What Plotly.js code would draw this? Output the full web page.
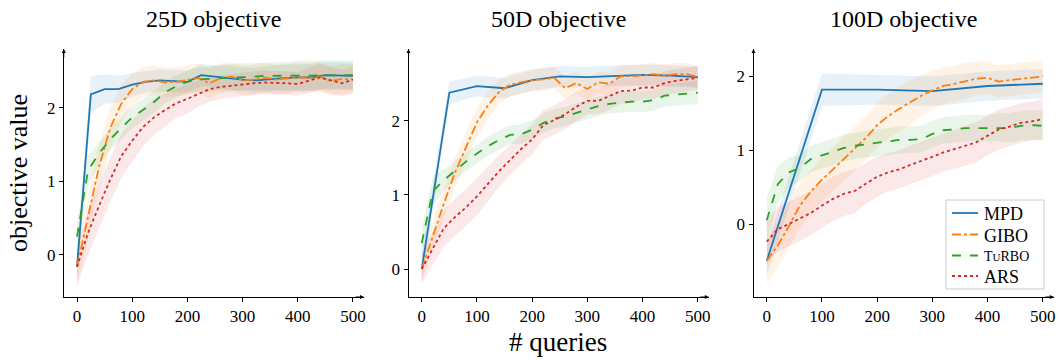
<!DOCTYPE html>
<html>
<head>
<meta charset="utf-8">
<script src="https://cdn.plot.ly/plotly-3.0.1.min.js"></script>
<style>html,body{margin:0;padding:0;background:#fff;}</style>
</head>
<body>
<div id="chart" style="width:1059px;height:360px;"></div>
<script>
// ---------- data ----------
const xMPD25 = [0,25,50,75,100,125,150,175,200,225,250,275,300,325,350,375,400,425,450,475,500];
const xMPD50 = [0,50,100,150,200,250,300,350,400,450,500];
const xMPD100 = [0,100,200,300,400,500];
const xQ = [0,20,40,60,80,100,120,140,160,180,200,220,240,260,280,300,320,340,360,380,400,420,440,460,480,500];

// 25D
const mpd25 = [-0.16,2.18,2.25,2.25,2.31,2.35,2.37,2.36,2.35,2.44,2.42,2.41,2.38,2.37,2.39,2.40,2.41,2.41,2.44,2.43,2.43];
const mpd25Sd = [0.25,0.25,0.2,0.18,0.16,0.15,0.15,0.15,0.15,0.15,0.15,0.16,0.16,0.17,0.18,0.18,0.18,0.18,0.18,0.18,0.18];
const gibo25 = [-0.16,0.50,1.20,1.72,2.05,2.25,2.35,2.37,2.34,2.35,2.37,2.40,2.33,2.40,2.42,2.37,2.38,2.41,2.38,2.40,2.41,2.40,2.42,2.36,2.39,2.38];
const gibo25Sd = [0.25,0.3,0.3,0.28,0.25,0.22,0.2,0.2,0.2,0.2,0.2,0.2,0.2,0.2,0.2,0.2,0.2,0.2,0.2,0.2,0.2,0.2,0.2,0.2,0.2,0.2];
const turbo25 = [0.25,1.15,1.38,1.57,1.72,1.87,1.97,2.08,2.21,2.29,2.35,2.38,2.39,2.40,2.41,2.42,2.42,2.43,2.43,2.43,2.44,2.44,2.44,2.44,2.44,2.44];
const turbo25Sd = [0.2,0.2,0.15,0.15,0.15,0.15,0.15,0.15,0.15,0.15,0.15,0.16,0.17,0.18,0.18,0.18,0.18,0.18,0.19,0.19,0.2,0.2,0.2,0.2,0.2,0.2];
const ars25 = [-0.16,0.30,0.67,1.02,1.34,1.55,1.74,1.87,1.97,2.06,2.12,2.19,2.25,2.28,2.30,2.31,2.33,2.34,2.34,2.33,2.32,2.37,2.41,2.37,2.33,2.38];
const ars25Sd = [0.25,0.3,0.3,0.3,0.3,0.28,0.26,0.24,0.22,0.2,0.2,0.18,0.17,0.16,0.16,0.16,0.16,0.16,0.16,0.16,0.16,0.17,0.18,0.18,0.18,0.18];

// 50D
const mpd50 = [0,2.38,2.47,2.44,2.55,2.60,2.59,2.61,2.62,2.61,2.59];
const mpd50Sd = [0.2,0.15,0.14,0.14,0.14,0.14,0.14,0.14,0.14,0.14,0.14];
const gibo50 = [0,0.45,0.88,1.30,1.64,1.98,2.21,2.39,2.49,2.52,2.55,2.56,2.58,2.44,2.51,2.43,2.52,2.50,2.60,2.60,2.62,2.63,2.61,2.63,2.63,2.59];
const gibo50Sd = [0.15,0.2,0.2,0.2,0.2,0.2,0.18,0.16,0.15,0.15,0.15,0.15,0.15,0.15,0.15,0.15,0.15,0.15,0.15,0.15,0.15,0.15,0.15,0.15,0.15,0.15];
const turbo50 = [0.35,1.05,1.20,1.33,1.45,1.56,1.66,1.74,1.81,1.82,1.88,1.97,2.03,2.06,2.11,2.16,2.20,2.23,2.25,2.26,2.26,2.28,2.34,2.35,2.37,2.38];
const turbo50Sd = [0.2,0.2,0.15,0.13,0.13,0.13,0.13,0.13,0.13,0.13,0.13,0.13,0.13,0.13,0.13,0.13,0.13,0.13,0.14,0.14,0.14,0.14,0.15,0.15,0.15,0.16];
const ars50 = [0,0.28,0.55,0.70,0.83,0.98,1.15,1.32,1.47,1.62,1.75,1.94,2.01,2.09,2.19,2.27,2.27,2.33,2.40,2.41,2.45,2.45,2.51,2.54,2.56,2.58];
const ars50Sd = [0.2,0.22,0.25,0.25,0.25,0.25,0.24,0.22,0.2,0.2,0.2,0.2,0.2,0.2,0.2,0.18,0.18,0.18,0.17,0.17,0.16,0.16,0.16,0.16,0.16,0.16];

// 100D
const mpd100 = [-0.50,1.82,1.82,1.80,1.87,1.90];
const mpd100Sd = [0.2,0.22,0.2,0.2,0.2,0.2];
const gibo100 = [-0.50,-0.29,-0.03,0.25,0.44,0.60,0.74,0.88,1.03,1.17,1.34,1.46,1.56,1.65,1.74,1.81,1.87,1.90,1.94,1.97,1.98,1.93,1.95,1.97,1.99,2.00];
const gibo100Sd = [0.3,0.3,0.3,0.3,0.3,0.3,0.3,0.3,0.3,0.3,0.3,0.3,0.3,0.3,0.28,0.26,0.25,0.24,0.24,0.23,0.22,0.22,0.22,0.22,0.22,0.22];
const turbo100 = [0.05,0.54,0.70,0.76,0.88,0.93,0.98,1.03,1.06,1.08,1.10,1.11,1.14,1.14,1.15,1.22,1.27,1.28,1.30,1.30,1.30,1.31,1.30,1.33,1.34,1.33];
const turbo100Sd = [0.3,0.25,0.2,0.18,0.18,0.18,0.18,0.18,0.18,0.18,0.18,0.18,0.18,0.18,0.18,0.18,0.18,0.18,0.18,0.18,0.18,0.19,0.2,0.2,0.2,0.2];
const ars100 = [-0.24,-0.07,0.00,0.07,0.15,0.25,0.34,0.41,0.45,0.55,0.64,0.70,0.74,0.80,0.85,0.91,0.97,1.01,1.06,1.11,1.20,1.28,1.32,1.37,1.39,1.42];
const ars100Sd = [0.3,0.3,0.3,0.3,0.3,0.3,0.3,0.3,0.3,0.28,0.27,0.26,0.26,0.26,0.26,0.26,0.26,0.26,0.27,0.27,0.27,0.27,0.27,0.27,0.27,0.27];

const titles = ["25D objective","50D objective","100D objective"];
const xTicks = [0,100,200,300,400,500];
const yTicks = [0,1,2];
const seriesNames = ["MPD","GIBO","<span style='font-size:14px'>T<span style='font-size:11px'>U</span>RBO</span>","ARS"];

// ---------- style ----------
const colors = ["#1f77b4","#ff7f0e","#2ca02c","#d62728"];
const fills = ["rgba(31,119,180,0.10)","rgba(255,127,14,0.10)","rgba(44,160,44,0.10)","rgba(214,39,40,0.10)"];
const dashes = ["solid","dashdot","dash","dot"];
const FONT = "Liberation Serif, Times New Roman, serif";

const panels = [
  {xs:[xMPD25,xQ,xQ,xQ], ys:[mpd25,gibo25,turbo25,ars25], sds:[mpd25Sd,gibo25Sd,turbo25Sd,ars25Sd]},
  {xs:[xMPD50,xQ,xQ,xQ], ys:[mpd50,gibo50,turbo50,ars50], sds:[mpd50Sd,gibo50Sd,turbo50Sd,ars50Sd]},
  {xs:[xMPD100,xQ,xQ,xQ], ys:[mpd100,gibo100,turbo100,ars100], sds:[mpd100Sd,gibo100Sd,turbo100Sd,ars100Sd]}
];

const traces = [];
panels.forEach((p, pi) => {
  const xa = pi === 0 ? "x" : "x" + (pi + 1);
  const ya = pi === 0 ? "y" : "y" + (pi + 1);
  for (let s = 0; s < 4; s++) {
    const x = p.xs[s], y = p.ys[s], sd = p.sds[s];
    const up = y.map((v, i) => v + sd[i]);
    const lo = y.map((v, i) => v - sd[i]);
    traces.push({
      x: x.concat(x.slice().reverse()),
      y: up.concat(lo.slice().reverse()),
      xaxis: xa, yaxis: ya, type: "scatter", mode: "lines",
      fill: "toself", fillcolor: fills[s], line: {width: 0},
      hoverinfo: "skip", showlegend: false
    });
  }
  for (let s = 0; s < 4; s++) {
    traces.push({
      x: p.xs[s], y: p.ys[s], xaxis: xa, yaxis: ya,
      type: "scatter", mode: "lines", name: seriesNames[s],
      line: {color: colors[s], width: 1.8, dash: dashes[s]},
      showlegend: false
    });
  }
});

const W = 1059, H = 360;
const xDomPx = [[63.8,364],[408.5,708.8],[753.5,1053.8]];
const yRanges = [[-0.57,2.795],[-0.378,2.97],[-0.989,2.371]];
const yDom = [(H-297)/H, (H-49)/H];
const px = v => v / W, py = v => (H - v) / H;

const layout = {
  width: W, height: H,
  margin: {l:0, r:0, t:0, b:0},
  paper_bgcolor: "#fff", plot_bgcolor: "#fff",
  font: {family: FONT, color: "#000", size: 16},
  showlegend: false,
  annotations: [],
  shapes: [],
  hovermode: false
};

for (let i = 0; i < 3; i++) {
  const sfx = i === 0 ? "" : String(i + 1);
  layout["xaxis" + sfx] = {
    domain: [xDomPx[i][0]/W, xDomPx[i][1]/W], anchor: "y" + sfx,
    range: [-24, 520], tickvals: xTicks, ticktext: xTicks.map(String),
    showgrid: false, zeroline: false, showline: true, linecolor: "#000", linewidth: 1,
    ticks: "outside", ticklen: 4, tickcolor: "#000", tickwidth: 1,
    tickfont: {family: FONT, size: 17, color: "#000"}
  };
  layout["yaxis" + sfx] = {
    domain: yDom, anchor: "x" + sfx, range: yRanges[i],
    tickvals: yTicks, ticktext: yTicks.map(String),
    showgrid: false, zeroline: false, showline: true, linecolor: "#000", linewidth: 1,
    ticks: "outside", ticklen: 4, tickcolor: "#000", tickwidth: 1,
    tickfont: {family: FONT, size: 17, color: "#000"}
  };
  layout.annotations.push({
    xref: "paper", yref: "paper",
    x: (xDomPx[i][0] + xDomPx[i][1]) / 2 / W, y: (H - 19) / H,
    xanchor: "center", yanchor: "middle", showarrow: false,
    text: titles[i], font: {family: FONT, size: 24, color: "#000"}
  });
  layout.annotations.push({
    xref: "x" + sfx + " domain", yref: "y" + sfx + " domain",
    x: 1, y: 0, ax: -10, ay: 0, showarrow: true, text: "",
    arrowhead: 2, arrowsize: 0.8, arrowwidth: 1, arrowcolor: "#000"
  });
  layout.annotations.push({
    xref: "x" + sfx + " domain", yref: "y" + sfx + " domain",
    x: 0, y: 1, ax: 0, ay: 10, showarrow: true, text: "",
    arrowhead: 2, arrowsize: 0.8, arrowwidth: 1, arrowcolor: "#000"
  });
}

// legend (drawn in the third panel, lower right)
layout.shapes.push({
  type: "rect", xref: "paper", yref: "paper",
  x0: px(946), x1: px(1044), y0: py(289), y1: py(200),
  line: {color: "#cccccc", width: 1}, fillcolor: "rgba(255,255,255,0.85)", layer: "above"
});
const legY = [213, 234.5, 255.5, 276];
for (let s = 0; s < 4; s++) {
  layout.shapes.push({
    type: "line", xref: "paper", yref: "paper",
    x0: px(952), x1: px(978), y0: py(legY[s]), y1: py(legY[s]),
    line: {color: colors[s], width: 1.8, dash: dashes[s]}, layer: "above"
  });
  layout.annotations.push({
    xref: "paper", yref: "paper", x: px(982), y: py(legY[s] + 1),
    xanchor: "left", yanchor: "middle", showarrow: false,
    text: seriesNames[s], font: {family: FONT, size: 18, color: "#000"}
  });
}

layout.annotations.push({
  xref: "paper", yref: "paper", x: 19/W, y: (H-173)/H,
  xanchor: "center", yanchor: "middle", showarrow: false, textangle: -90,
  text: "objective value", font: {family: FONT, size: 26, color: "#000"}
});
layout.annotations.push({
  xref: "paper", yref: "paper", x: 558/W, y: (H-342)/H,
  xanchor: "center", yanchor: "middle", showarrow: false,
  text: "# queries", font: {family: FONT, size: 27, color: "#000"}
});

Plotly.newPlot("chart", traces, layout, {staticPlot: true, displayModeBar: false});
</script>
</body>
</html>
